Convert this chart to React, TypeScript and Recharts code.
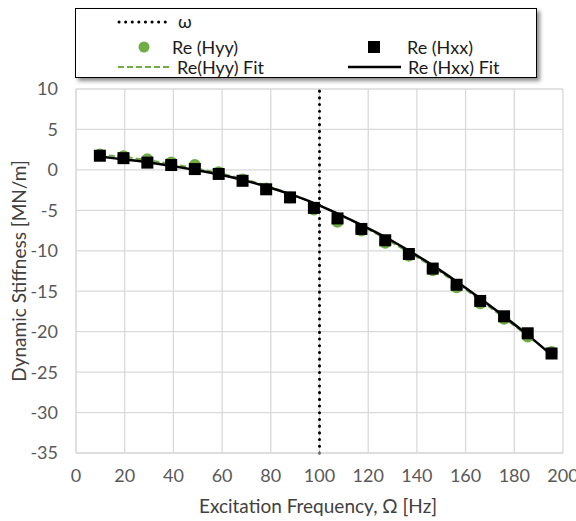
import { ComposedChart, Line, XAxis, YAxis, CartesianGrid, ReferenceLine, Label } from 'recharts';

const FREQ = [9.8, 19.5, 29.3, 39.1, 48.8, 58.6, 68.4, 78.1, 87.9, 97.7, 107.4, 117.2, 127.0, 136.7, 146.5, 156.3, 166.0, 175.8, 185.5, 195.3];
const RE_HYY = [1.9, 1.7, 1.3, 0.9, 0.6, -0.3, -1.2, -2.3, -3.4, -4.9, -6.4, -7.5, -9.0, -10.6, -12.4, -14.5, -16.5, -18.4, -20.6, -22.5];
const RE_HXX = [1.75, 1.45, 0.9, 0.6, 0.1, -0.5, -1.35, -2.4, -3.4, -4.7, -6.0, -7.3, -8.7, -10.4, -12.2, -14.2, -16.2, -18.1, -20.2, -22.7];
const RE_HYY_FIT = [1.9, 1.6, 1.2, 0.75, 0.2, -0.4, -1.1, -1.95, -2.95, -4.1, -5.4, -6.9, -8.5, -10.2, -12.0, -14.0, -16.1, -18.3, -20.5, -22.8];
const RE_HXX_FIT = [1.65, 1.3, 0.95, 0.5, 0.0, -0.55, -1.25, -2.05, -3.0, -4.1, -5.4, -6.8, -8.3, -10.0, -11.8, -13.8, -15.9, -18.1, -20.4, -22.9];
const X_TICKS = [0, 20, 40, 60, 80, 100, 120, 140, 160, 180, 200];
const Y_TICKS = [-35, -30, -25, -20, -15, -10, -5, 0, 5, 10];
const OMEGA = 100;

const GREEN = '#70ad47';
const FONT = 'Lato, "Open Sans", sans-serif';

const data = FREQ.map((f, i) => ({
  f,
  hyy: RE_HYY[i],
  hxx: RE_HXX[i],
  hyyFit: RE_HYY_FIT[i],
  hxxFit: RE_HXX_FIT[i],
}));

const Circle = (props: any) => {
  const { cx, cy } = props;
  if (cx == null || cy == null) return null;
  return <circle cx={cx} cy={cy} r={6} fill={GREEN} />;
};

const Square = (props: any) => {
  const { cx, cy } = props;
  if (cx == null || cy == null) return null;
  return <rect x={cx - 6} y={cy - 6} width={12} height={12} fill="#000" />;
};

function ChartLegend() {
  const txt = { position: 'absolute' as const, fontSize: 18, color: '#1a1a1a', lineHeight: '20px', whiteSpace: 'nowrap' as const };
  return (
    <div
      style={{
        position: 'absolute', left: 75, top: 8, width: 460, height: 68,
        border: '1.5px solid #000', background: '#fff', boxShadow: '3px 3px 4px rgba(0,0,0,0.45)',
        fontFamily: FONT,
      }}
    >
      <svg width={460} height={68} style={{ position: 'absolute', left: 0, top: 0 }}>
        <line x1={43} y1={13} x2={95} y2={13} stroke="#000" strokeWidth={3} strokeDasharray="0.1 6.5" strokeLinecap="round" />
        <circle cx={68} cy={38} r={5.5} fill={GREEN} />
        <rect x={292} y={32} width={12} height={12} fill="#000" />
        <line x1={42} y1={58} x2={96} y2={58} stroke={GREEN} strokeWidth={2} strokeDasharray="6 3" />
        <line x1={272} y1={58} x2={325} y2={58} stroke="#000" strokeWidth={2.5} />
      </svg>
      <span style={{ ...txt, left: 102, top: 2 }}>ω</span>
      <span style={{ ...txt, left: 96, top: 28 }}>Re (Hyy)</span>
      <span style={{ ...txt, left: 331, top: 28 }}>Re (Hxx)</span>
      <span style={{ ...txt, left: 101, top: 48 }}>Re(Hyy) Fit</span>
      <span style={{ ...txt, left: 332, top: 48 }}>Re (Hxx) Fit</span>
    </div>
  );
}

export default function App() {
  return (
    <div style={{ position: 'absolute', left: 0, top: 0, width: 576, height: 521, background: '#fff', fontFamily: FONT }}>
      <ComposedChart width={576} height={521} data={data} margin={{ top: 89, right: 13, left: 0, bottom: 0 }}>
        <CartesianGrid stroke="#d9d9d9" strokeWidth={1.3} />
        <XAxis
          dataKey="f"
          type="number"
          domain={[0, 200]}
          ticks={X_TICKS}
          height={68}
          tickSize={0}
          tickMargin={16}
          axisLine={{ stroke: '#d9d9d9' }}
          tick={{ fill: '#595959', fontSize: 18, fontFamily: FONT }}
          interval={0}
        >
          <Label
            content={() => (
              <text x={318} y={513} textAnchor="middle" fill="#404040" fontSize={19} fontFamily={FONT}>
                Excitation Frequency, Ω [Hz]
              </text>
            )}
          />
        </XAxis>
        <YAxis
          type="number"
          domain={[-35, 10]}
          ticks={Y_TICKS}
          width={76}
          tickSize={0}
          tickMargin={18}
          axisLine={{ stroke: '#d9d9d9' }}
          tick={{ fill: '#595959', fontSize: 18, fontFamily: FONT }}
          interval={0}
        >
          <Label
            content={() => (
              <text x={18} y={271} transform="rotate(-90 18 271)" textAnchor="middle" dominantBaseline="central" fill="#404040" fontSize={19} fontFamily={FONT}>
                Dynamic Stiffness [MN/m]
              </text>
            )}
          />
        </YAxis>
        <ReferenceLine x={OMEGA} stroke="#000" strokeWidth={3} strokeDasharray="0.1 6.6" strokeLinecap="round" />
        <Line dataKey="hyy" stroke="none" dot={<Circle />} activeDot={false} isAnimationActive={false} />
        <Line dataKey="hxx" stroke="none" dot={<Square />} activeDot={false} isAnimationActive={false} />
        <Line type="monotone" dataKey="hyyFit" stroke={GREEN} strokeWidth={2} strokeDasharray="6 3" dot={false} activeDot={false} isAnimationActive={false} />
        <Line type="monotone" dataKey="hxxFit" stroke="#000" strokeWidth={2.5} dot={false} activeDot={false} isAnimationActive={false} />
      </ComposedChart>
      <ChartLegend />
    </div>
  );
}
